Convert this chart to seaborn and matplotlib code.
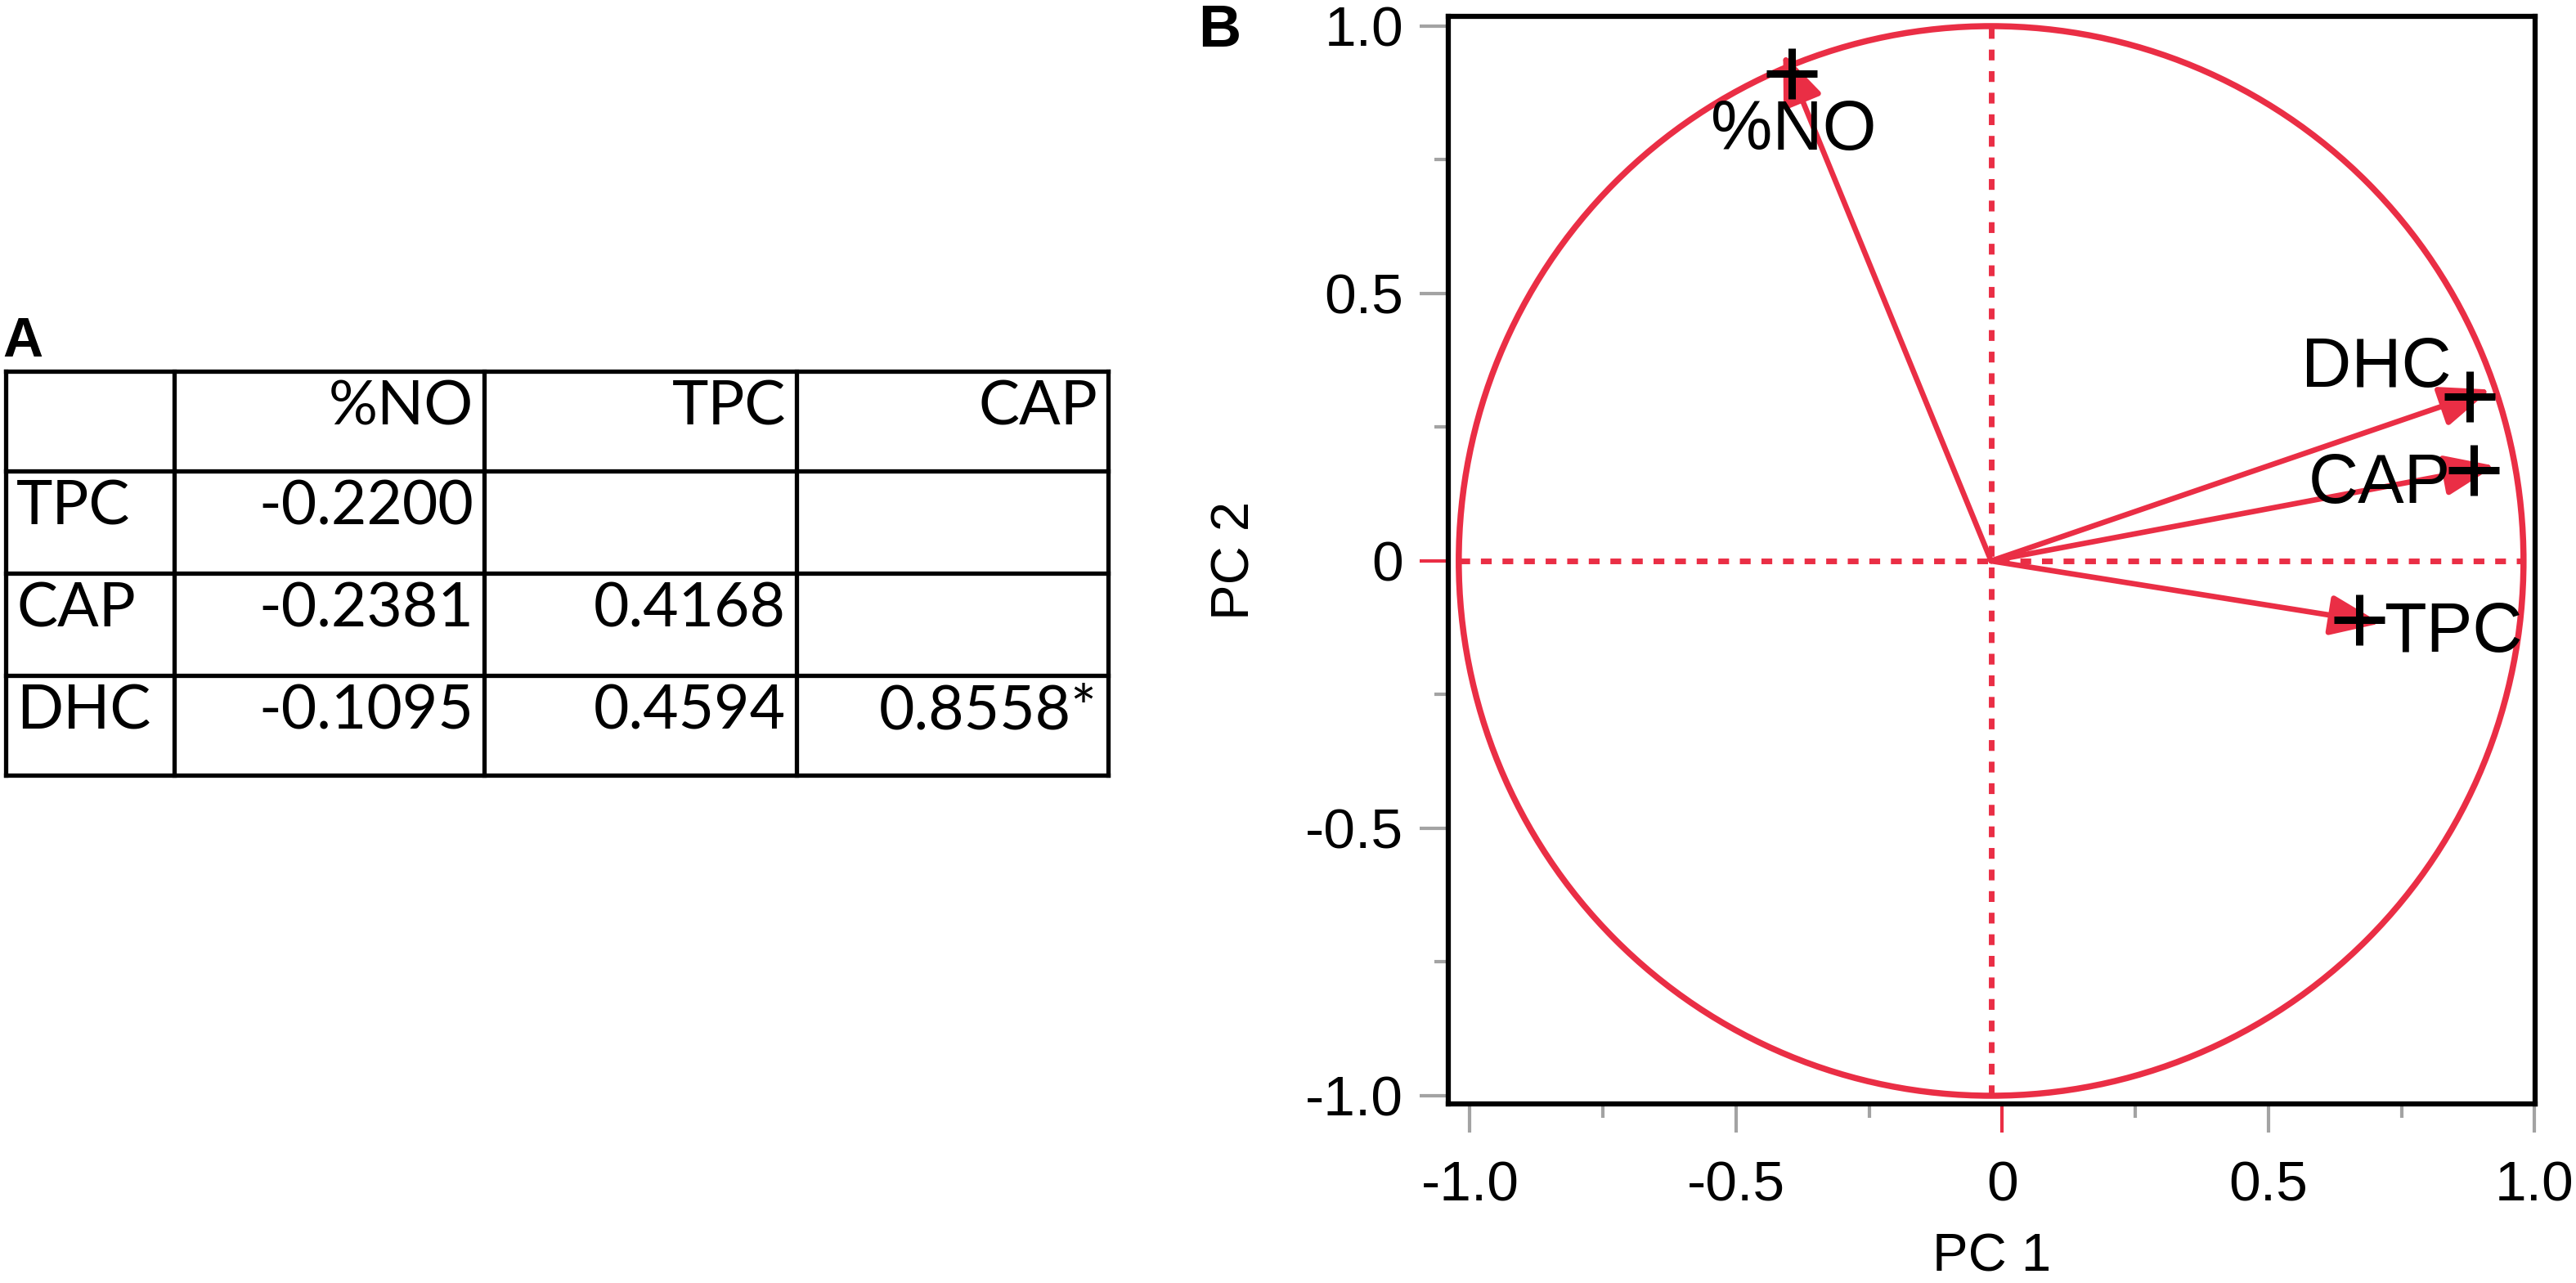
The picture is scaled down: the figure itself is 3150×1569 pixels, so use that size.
import numpy as np
import pandas as pd
import matplotlib
matplotlib.use("Agg")
import matplotlib.pyplot as plt
from matplotlib.patches import Ellipse
import seaborn as sns

# ---- panel A: correlation table (lower triangle) ----
corr_rows = ["TPC", "CAP", "DHC"]
corr_cols = ["%NO", "TPC", "CAP"]
corr_no = [-0.2200, -0.2381, -0.1095]
corr_tpc = [None, 0.4168, 0.4594]
corr_cap = [None, None, 0.8558]
signif_cap = [False, False, True]

# ---- panel B: loading plot ----
var_names = ["%NO", "DHC", "CAP", "TPC"]
pc1_load = [-0.375, 0.899, 0.906, 0.691]
pc2_load = [0.911, 0.307, 0.170, -0.110]
major_ticks = [-1.0, -0.5, 0.0, 0.5, 1.0]
major_labels = ["-1.0", "-0.5", "0", "0.5", "1.0"]
minor_ticks = [-0.75, -0.25, 0.25, 0.75]

# label offsets (pixels) relative to the + marker
label_pos = {"%NO": (3, -93, "center"), "DHC": (-22, 12, "right"),
             "CAP": (-28, -40, "right"), "TPC": (30, -39, "left")}

RED = "#EA2E45"
GRAY = "#A3A3A3"

sns.set_style("ticks")
plt.rcParams["font.family"] = ["Liberation Sans", "DejaVu Sans"]
plt.rcParams["text.color"] = "black"
plt.rcParams["axes.labelcolor"] = "black"
plt.rcParams["xtick.labelcolor"] = "black"
plt.rcParams["ytick.labelcolor"] = "black"

fig = plt.figure(figsize=(31.5, 15.69), dpi=100)

# overlay in pixel coordinates for the table and panel letters
ax_t = fig.add_axes([0, 0, 1, 1])
ax_t.set_xlim(0, 3150)
ax_t.set_ylim(1569, 0)
ax_t.axis("off")

col_x = [7, 213, 592, 974, 1355]
row_y = [453.5, 575.5, 700.5, 825.5, 948]
for y in row_y:
    ax_t.plot([col_x[0], col_x[-1]], [y, y], color="black", lw=3.8, solid_capstyle="projecting")
for x in col_x:
    ax_t.plot([x, x], [row_y[0], row_y[-1]], color="black", lw=3.8, solid_capstyle="projecting")

tfont = dict(fontfamily="Lato", fontsize=54, va="baseline", color="black")
for j, c in enumerate(corr_cols):
    ax_t.text(col_x[j + 2] - 13, row_y[0] + 66, c, ha="right", **tfont)
for i, r in enumerate(corr_rows):
    ax_t.text(col_x[0] + 13, row_y[i + 1] + 66, r, ha="left", **tfont)
for j, col in enumerate([corr_no, corr_tpc, corr_cap]):
    for i, v in enumerate(col):
        if v is None:
            continue
        s = f"{v:.4f}"
        if j == 2 and signif_cap[i]:
            s += "*"
        ax_t.text(col_x[j + 2] - 13, row_y[i + 1] + 66, s, ha="right", **tfont)

ax_t.text(3, 436, "A", fontsize=49, fontweight="bold", ha="left", va="baseline", color="black")
ax_t.text(1465, 57, "B", fontsize=52, fontweight="bold", ha="left", va="baseline", color="black")

# loading plot
ax = fig.add_axes([1771 / 3150, (1569 - 1350) / 1569, 1329 / 3150, 1330 / 1569])
ax.set_xlim(-1.0407, 1.0008)
ax.set_ylim(-1.0153, 1.0183)

x0 = -0.021  # JMP draws the circle slightly left of the axis zero
ax.add_patch(Ellipse((x0, 0), 2, 2, fill=False, edgecolor=RED, lw=5.4, zorder=2))
ax.plot([x0 - 1, x0 + 1], [0, 0], color=RED, lw=5, dashes=(1.9, 1.9), zorder=2)
ax.plot([x0, x0], [-1, 1], color=RED, lw=5, dashes=(1.9, 1.9), zorder=2)

loadings = pd.DataFrame({"variable": var_names, "pc1": pc1_load, "pc2": pc2_load})
loadings["x"] = loadings["pc1"] + x0

for _, row in loadings.iterrows():
    length_px = np.hypot(row.pc1 * 651, row.pc2 * 654)
    f = 1 + 27 / length_px
    ax.annotate("", xy=(x0 + row.pc1 * f, row.pc2 * f), xytext=(x0, 0),
                arrowprops=dict(arrowstyle="-|>,head_length=1.0,head_width=0.4",
                                mutation_scale=38, color=RED, lw=4.8,
                                shrinkA=0, shrinkB=0),
                zorder=3)

sns.scatterplot(data=loadings, x="x", y="pc2", marker="+", s=1990, color="black",
                linewidth=6.5, ax=ax, zorder=5, legend=False)

for _, row in loadings.iterrows():
    dx, dy, ha = label_pos[row.variable]
    ax.annotate(row.variable, xy=(row.x, row.pc2), xytext=(dx, dy),
                textcoords="offset pixels", ha=ha, va="baseline",
                fontsize=61, color="black", zorder=4)

ax.set_xticks(major_ticks, major_labels)
ax.set_yticks(major_ticks, major_labels)
ax.set_xticks(minor_ticks, minor=True)
ax.set_yticks(minor_ticks, minor=True)
ax.tick_params(which="major", direction="out", length=25, width=3, color=GRAY,
               labelsize=50, labelcolor="black")
ax.tick_params(which="minor", direction="out", length=12, width=3, color=GRAY)
ax.tick_params(axis="x", which="major", pad=24)
ax.tick_params(axis="y", which="major", pad=14.5)
for tk in (ax.xaxis.get_major_ticks()[2], ax.yaxis.get_major_ticks()[2]):
    tk.tick1line.set_color(RED)
    tk.tick1line.set_markeredgecolor(RED)

ax.set_xlabel("PC 1", fontsize=47, labelpad=18, color="black")
ax.set_ylabel("PC 2", fontsize=47, labelpad=40, color="black")
ax.set_facecolor("white")
for s in ax.spines.values():
    s.set_linewidth(4.5)
    s.set_color("black")
    s.set_visible(True)

fig.savefig("out.png", dpi=100, facecolor="white")
